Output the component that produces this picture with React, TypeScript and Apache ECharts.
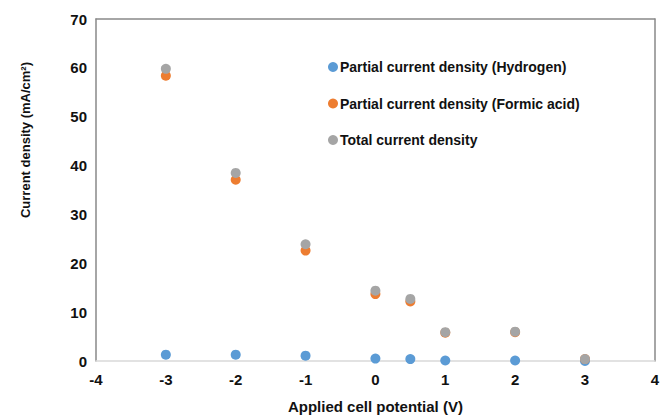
import React, { useEffect, useRef } from "react";
import * as echarts from "echarts";

const potentials = [-3, -2, -1, 0, 0.5, 1, 2, 3];
const hydrogen = [1.3, 1.3, 1.1, 0.5, 0.4, 0.1, 0.1, 0.0];
const formicAcid = [58.4, 37.1, 22.6, 13.7, 12.2, 5.8, 5.9, 0.4];
const total = [59.8, 38.5, 23.9, 14.4, 12.7, 5.9, 6.0, 0.4];

const seriesNames = [
  "Partial current density (Hydrogen)",
  "Partial current density (Formic acid)",
  "Total current density",
];
const colors = ["#5B9BD5", "#ED7D31", "#A5A5A5"];

const font = "'Liberation Sans', Arial, sans-serif";

export default function App() {
  const ref = useRef<HTMLDivElement>(null);
  useEffect(() => {
    if (!ref.current) return;
    const chart = echarts.init(ref.current, null, { renderer: "svg" });
    const pairs = (ys: number[]) => potentials.map((x, i) => [x, ys[i]]);
    const labelStyle = { color: "#111", fontWeight: "bold" as const, fontSize: 15, fontFamily: font };
    chart.setOption({
      animation: false,
      backgroundColor: "#ffffff",
      grid: { left: 96, right: 7, top: 19, bottom: 56 },
      legend: {
        orient: "vertical",
        left: 323,
        top: 55,
        itemGap: 22.5,
        itemWidth: 10,
        itemHeight: 10,
        icon: "circle",
        data: seriesNames,
        textStyle: { color: "#111", fontWeight: "bold", fontSize: 14, fontFamily: font, padding: [0, 0, 0, -3] },
      },
      xAxis: [
        {
          type: "value",
          min: -4,
          max: 4,
          interval: 1,
          name: "Applied cell potential (V)",
          nameLocation: "middle",
          nameGap: 38,
          nameTextStyle: { ...labelStyle, fontSize: 15 },
          axisLine: { show: true, onZero: false, lineStyle: { color: "#d9d9d9", width: 1.5 } },
          axisTick: { show: false },
          splitLine: { show: false },
          axisLabel: { ...labelStyle, margin: 11 },
        },
        {
          type: "value",
          position: "top",
          min: -4,
          max: 4,
          interval: 1,
          axisLine: { show: true, onZero: false, lineStyle: { color: "#898989", width: 1.5 } },
          axisTick: { show: false },
          splitLine: { show: false },
          axisLabel: { show: false },
        },
      ],
      yAxis: [
        {
          type: "value",
          min: 0,
          max: 70,
          interval: 10,
          name: "Current density (mA/cm²)",
          nameLocation: "middle",
          nameGap: 64,
          nameTextStyle: { ...labelStyle, fontSize: 13, padding: [0, 0, 0, 100] },
          axisLine: { show: true, onZero: false, lineStyle: { color: "#898989", width: 1.5 } },
          axisTick: { show: false },
          splitLine: { show: false },
          axisLabel: { ...labelStyle, margin: 9 },
        },
        {
          type: "value",
          position: "right",
          min: 0,
          max: 70,
          interval: 10,
          axisLine: { show: true, onZero: false, lineStyle: { color: "#898989", width: 1.5 } },
          axisTick: { show: false },
          splitLine: { show: false },
          axisLabel: { show: false },
        },
      ],
      series: [hydrogen, formicAcid, total].map((ys, i) => ({
        name: seriesNames[i],
        type: "scatter",
        symbol: "circle",
        symbolSize: 10,
        itemStyle: { color: colors[i], opacity: 1 },
        data: pairs(ys),
        z: 2 + i,
      })),
    });
    return () => chart.dispose();
  }, []);
  return <div ref={ref} style={{ width: 662, height: 419, position: "absolute", left: 0, top: 0 }} />;
}
